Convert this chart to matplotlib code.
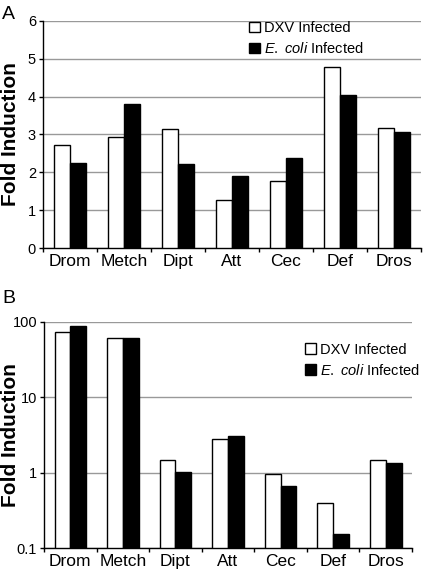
import numpy as np
import matplotlib
matplotlib.use("Agg")
from matplotlib import pyplot as plt

plt.rcParams['font.family'] = ['Liberation Sans', 'DejaVu Sans']
plt.rcParams['mathtext.fontset'] = 'custom'
plt.rcParams['mathtext.rm'] = 'Liberation Sans'
plt.rcParams['mathtext.it'] = 'Liberation Sans:italic'

genes = ["Drom", "Metch", "Dipt", "Att", "Cec", "Def", "Dros"]

# panel A (linear)
dxv_a = [2.72, 2.94, 3.14, 1.27, 1.78, 4.79, 3.17]
ecoli_a = [2.24, 3.80, 2.22, 1.89, 2.38, 4.04, 3.07]

# panel B (log)
dxv_b = [74, 62, 1.46, 2.83, 0.96, 0.39, 1.49]
ecoli_b = [88, 62, 1.03, 3.04, 0.67, 0.155, 1.33]

labels = ["DXV Infected", r"$\it{E.\ coli}$ Infected"]

fig = plt.figure(figsize=(4.24, 5.69), dpi=100)
axA = fig.add_axes([0.1014, 0.564, 0.8915, 0.3996])
axB = fig.add_axes([0.1038, 0.0369, 0.868, 0.3972])

x = np.arange(len(genes))
w = 0.3


def style(ax, left_px, width_px):
    for s in ["top", "right"]:
        ax.spines[s].set_visible(False)
    ax.spines["left"].set_linewidth(1.0)
    ax.spines["bottom"].set_linewidth(1.0)
    ax.set_xlim(-0.5, len(genes) - 0.5)
    ax.set_xticks(x)
    ax.set_xticklabels(genes, fontsize=12.5)
    ax.set_xticks(np.arange(len(genes) + 1) - 0.5, minor=True)
    ax.tick_params(axis="x", which="major", length=0, pad=4)
    ax.tick_params(axis="x", which="minor", length=3, width=1, direction="out")
    ax.tick_params(axis="y", which="major", length=3, width=1, direction="out",
                   labelsize=10.5, pad=2)
    ax.tick_params(axis="y", which="minor", length=0)
    ax.yaxis.grid(True, color="#999999", linewidth=1)
    ax.set_axisbelow(True)
    ax.set_ylabel("Fold Induction", fontsize=15, fontweight="bold")
    # keep the label at the same spot in both panels
    ax.yaxis.set_label_coords((20 - left_px) / width_px, 0.5)


def bars(ax, a, b, base=0):
    b1 = ax.bar(x - w / 2, a, w, color="white", edgecolor="black", linewidth=1,
                bottom=base, zorder=3)
    b2 = ax.bar(x + w / 2, b, w, color="black", edgecolor="black", linewidth=1,
                bottom=base, zorder=3)
    return b1, b2


hA = bars(axA, dxv_a, ecoli_a)
axA.set_ylim(0, 6)
axA.set_yticks(range(0, 7))
style(axA, 43, 378)
axA.legend(hA, labels, loc="upper left", bbox_to_anchor=(0.527, 1.03),
           frameon=False, fontsize=10.5, handlelength=0.75, handleheight=0.75,
           handletextpad=0.25, labelspacing=0.4, borderpad=0)

axB.set_yscale("log")
hB = bars(axB, np.array(dxv_b) - 0.1, np.array(ecoli_b) - 0.1, base=0.1)
axB.set_ylim(0.1, 100)
axB.set_yticks([0.1, 1, 10, 100])
axB.set_yticklabels(["0.1", "1", "10", "100"])
style(axB, 44, 368)
axB.legend(hB, labels, loc="upper left", bbox_to_anchor=(0.69, 0.94),
           frameon=False, fontsize=10.5, handlelength=0.75, handleheight=0.75,
           handletextpad=0.25, labelspacing=0.4, borderpad=0)

fig.text(0.005, 0.99, "A", fontsize=14, va="top", ha="left")
fig.text(0.005, 0.49, "B", fontsize=14, va="top", ha="left")

fig.savefig("out.png", dpi=100)
